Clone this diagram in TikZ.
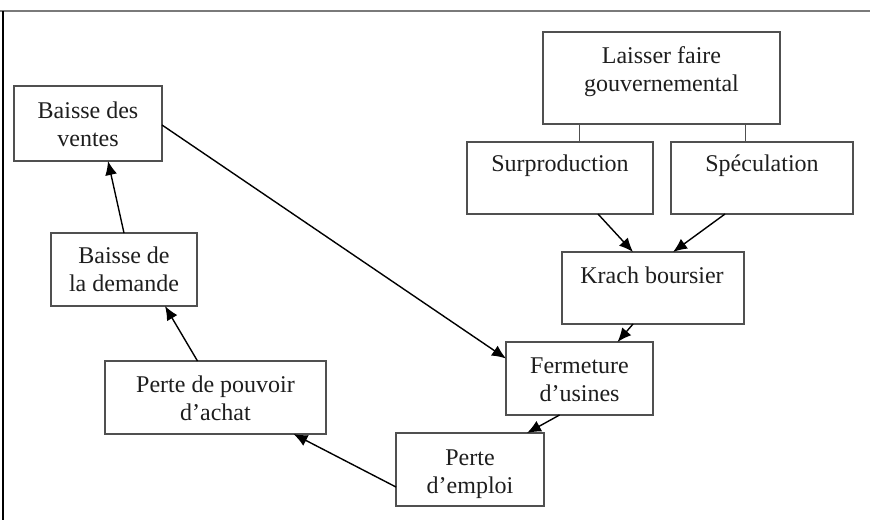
\documentclass[tikz,border=0pt]{standalone}
\usepackage{fontspec}
\setmainfont{Liberation Serif}
\usetikzlibrary{arrows.meta}
\definecolor{boxgray}{HTML}{505050}
\definecolor{txtcol}{HTML}{1E1E1E}
\definecolor{rulegray}{HTML}{7A7A7A}
\begin{document}
\begin{tikzpicture}[x=0.5pt,y=-0.5pt,
  box/.style={draw=boxgray,line width=0.9pt,inner sep=0pt,outer sep=0pt},
  lbl/.style={anchor=north,align=center,inner sep=0pt,text=txtcol,font=\fontsize{12}{14}\selectfont},
  arr/.style={-{Latex[length=7pt,width=6pt]},line width=0.7pt,draw=black},
  link/.style={line width=0.9pt,draw=boxgray}]
\useasboundingbox (0,0) rectangle (870,520);
\fill[white] (0,0) rectangle (870,520);
% frame
\draw[rulegray,line width=1.1pt] (0,11) -- (870,11);
\draw[line width=0.6pt] (3,11) -- (3,520);
% boxes
\node[box,minimum width=118.5pt,minimum height=46pt] (lf) at (661.5,78) {};
\node[box,minimum width=93pt,minimum height=36pt] (sur) at (560,178) {};
\node[box,minimum width=91pt,minimum height=36pt] (spe) at (762,178) {};
\node[box,minimum width=91pt,minimum height=36pt] (krach) at (653,288) {};
\node[box,minimum width=73.5pt,minimum height=36.5pt] (ferm) at (579.5,378.5) {};
\node[box,minimum width=74pt,minimum height=36.5pt] (pe) at (470,469.5) {};
\node[box,minimum width=110.5pt,minimum height=36.5pt] (ppa) at (215.5,397.5) {};
\node[box,minimum width=73pt,minimum height=36.5pt] (bdd) at (124,269.5) {};
\node[box,minimum width=74pt,minimum height=37.5pt] (bdv) at (88,123.5) {};
% texts
\node[lbl] (tlf) at (661.5,43.4) {\strut Laisser faire\\gouvernemental};
\node[lbl] (tsur) at (560,151.4) {\strut Surproduction};
\node[lbl] (tspe) at (762,151.4) {\strut Spéculation};
\node[lbl] (tkrach) at (652,263.4) {\strut Krach boursier};
\node[lbl] (tferm) at (579.5,353.4) {\strut Fermeture\\d’usines};
\node[lbl] (tpe) at (470,445.4) {\strut Perte\\d’emploi};
\node[lbl] (tppa) at (215.5,372.4) {\strut Perte de pouvoir\\d’achat};
\node[lbl] (tbdd) at (124,243.4) {\strut Baisse de\\la demande};
\node[lbl] (tbdv) at (88,98.4) {\strut Baisse des\\ventes};
% links from top box
\draw[link] ([xshift=-41pt]lf.south) -- ([xshift=-41pt]lf.south |- sur.north);
\draw[link] ([xshift=42pt]lf.south) -- ([xshift=42pt]lf.south |- spe.north);
% arrows
\draw[arr] ([xshift=19pt]sur.south) -- ([xshift=-10pt]krach.north);
\draw[arr] ([xshift=-18.5pt]spe.south) -- ([xshift=10pt]krach.north);
\draw[arr] ([xshift=-10pt]krach.south) -- ([xshift=19pt]ferm.north);
\draw[arr] ([xshift=-10pt]ferm.south) -- ([xshift=28.5pt]pe.north);
\draw[arr] ([yshift=-8.75pt]pe.west) -- ([xshift=39pt]ppa.south);
\draw[arr] ([xshift=-9pt]ppa.north) -- ([xshift=20.5pt]bdd.south);
\draw[arr] (bdd.north) -- ([xshift=10pt]bdv.south);
\draw[arr] ([yshift=-0.75pt]bdv.east) -- ([yshift=10pt]ferm.west);
\end{tikzpicture}
\end{document}
